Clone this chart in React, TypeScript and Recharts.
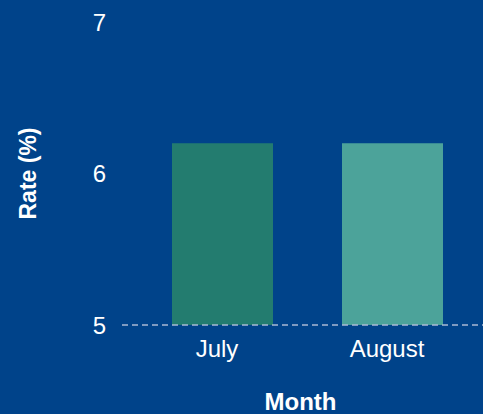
import { BarChart, Bar, XAxis, YAxis, Cell } from "recharts";

const months = ["July", "August"];
const rates = [6.2, 6.2];
const barColors = ["#237C6F", "#4CA39A"];
const yTicks = [5, 6, 7];

const data = months.map((month, i) => ({ month, rate: rates[i] }));

const font = "'Liberation Sans', Arial, sans-serif";

export default function App() {
  return (
    <div style={{ position: "absolute", top: 0, left: 0, width: 483, height: 414, background: "#00438A", overflow: "hidden", fontFamily: font }}>
      <BarChart width={483} height={414} data={data} margin={{ top: 22, right: 0, bottom: 0, left: 0 }}>
        <XAxis
          dataKey="month"
          height={89}
          padding={{ left: 15, right: 6 }}
          tickLine={false}
          tickSize={0}
          tickMargin={15}
          tick={{ fill: "#FFFFFF", fontSize: 24, fontFamily: font, dx: -5 }}
          axisLine={{ stroke: "#A9B9D3", strokeWidth: 1.5, strokeDasharray: "6 4" }}
          label={{ value: "Month", position: "insideBottom", offset: 4, dx: -2, fill: "#FFFFFF", fontSize: 24, fontWeight: "bold", fontFamily: font }}
        />
        <YAxis
          width={122}
          domain={[5, 7]}
          ticks={yTicks}
          allowDataOverflow
          tickLine={false}
          axisLine={false}
          tickSize={0}
          tickMargin={16}
          tick={{ fill: "#FFFFFF", fontSize: 24, fontFamily: font }}
          label={{ value: "Rate (%)", angle: -90, position: "center", dx: -33, fill: "#FFFFFF", fontSize: 23, fontWeight: "bold", fontFamily: font }}
        />
        <Bar dataKey="rate" barSize={101} isAnimationActive={false}>
          {data.map((d, i) => (
            <Cell key={d.month} fill={barColors[i]} />
          ))}
        </Bar>
      </BarChart>
    </div>
  );
}
